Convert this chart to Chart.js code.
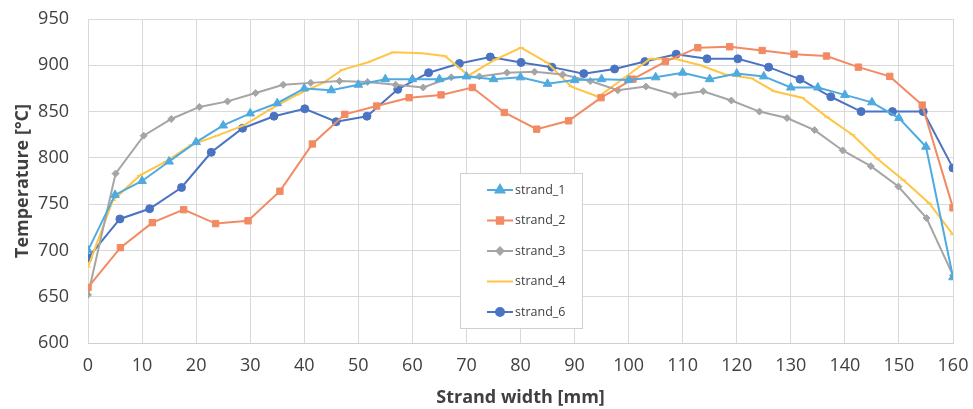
<!DOCTYPE html>
<html>
<head>
<meta charset="utf-8">
<script src="https://cdn.jsdelivr.net/npm/chart.js@4.4.0/dist/chart.umd.min.js"></script>
<style>
  html, body { margin: 0; padding: 0; background: #fff; }
  #wrap { width: 973px; height: 409px; }
</style>
</head>
<body>
<div id="wrap"><canvas id="tempChart"></canvas></div>
<script>
// x = strand width [mm], y = temperature [°C]
const strand1X = [0, 5, 10, 15, 20, 25, 30, 35, 40, 45, 50, 55, 60, 65, 70, 75, 80, 85, 90, 95, 100, 105, 110, 115, 120, 125, 130, 135, 140, 145, 150, 155, 160];
const strand1Y = [700, 760, 775, 796, 817, 835, 848, 859, 875, 873, 879, 885, 885, 885, 888, 885, 887, 880, 884, 885, 884, 887, 892, 885, 891, 888, 876, 876, 868, 860, 843, 812, 671];

const strand2X = [0, 6, 11.9, 17.7, 23.6, 29.6, 35.5, 41.5, 47.5, 53.4, 59.4, 65.3, 71.1, 77, 83, 88.9, 94.9, 100.8, 106.8, 112.8, 118.7, 124.7, 130.6, 136.6, 142.5, 148.3, 154.3, 160];
const strand2Y = [660, 703, 730, 744, 729, 732, 764, 815, 847, 856, 865, 868, 876, 849, 831, 840, 865, 885, 904, 919, 920, 916, 912, 910, 898, 888, 857, 746];

const strand3X = [0, 5.1, 10.3, 15.4, 20.6, 25.8, 31, 36.1, 41.2, 46.5, 51.7, 56.9, 62, 67.2, 72.4, 77.5, 82.6, 87.8, 92.9, 98, 103.2, 108.6, 113.8, 119, 124.2, 129.3, 134.4, 139.6, 144.8, 149.9, 155.1, 160];
const strand3Y = [652, 783, 824, 842, 855, 861, 870, 879, 881, 883, 882, 879, 876, 887, 888, 892, 893, 890, 883, 873, 877, 868, 872, 862, 850, 843, 830, 808, 791, 769, 735, 673];

const strand4X = [0, 4.6, 9.6, 14.4, 19.1, 23.9, 28.8, 33.6, 38.6, 43.5, 47, 51.7, 56.4, 61.7, 66, 70.4, 75.3, 80.1, 84.9, 89.4, 94.4, 99.1, 104, 108.6, 113.3, 117.9, 122.7, 126.9, 132.1, 136.7, 141.4, 146, 150.8, 155.6, 160];
const strand4Y = [682, 754, 781, 796, 814, 824, 835, 852, 868, 881, 895, 903, 914, 913, 910, 889, 906, 919, 903, 877, 866, 886, 907, 907, 900, 890, 886, 872, 865, 844, 825, 799, 776, 751, 717];

const strand6X = [0, 5.9, 11.4, 17.3, 22.8, 28.6, 34.4, 40.1, 45.9, 51.6, 57.3, 63, 68.7, 74.4, 80.1, 85.8, 91.7, 97.4, 103, 108.8, 114.5, 120.2, 125.9, 131.7, 137.4, 143, 148.8, 154.5, 160];
const strand6Y = [692, 734, 745, 768, 806, 832, 845, 853, 839, 845, 874, 892, 902, 909, 903, 898, 891, 896, 904, 912, 907, 907, 898, 885, 866, 850, 850, 850, 789];

const xTicks = [0, 10, 20, 30, 40, 50, 60, 70, 80, 90, 100, 110, 120, 130, 140, 150, 160];
const yTicks = [600, 650, 700, 750, 800, 850, 900, 950];

function toPoints(xs, ys) {
  return xs.map((x, i) => ({ x: x, y: ys[i] }));
}

const FONT = '"Open Sans", sans-serif';

// legend box drawn inside the plot, like the spreadsheet original
const boxLegend = {
  id: 'boxLegend',
  afterDraw(chart) {
    const ctx = chart.ctx;
    const xs = chart.scales.x;
    const ys = chart.scales.y;
    const left = Math.round(xs.getPixelForValue(68.8));
    const right = Math.round(xs.getPixelForValue(91.3));
    const top = Math.round(ys.getPixelForValue(784));
    const bottom = Math.round(ys.getPixelForValue(616));
    ctx.save();
    ctx.fillStyle = '#fff';
    ctx.fillRect(left, top, right - left, bottom - top);
    ctx.strokeStyle = '#d0d0d0';
    ctx.lineWidth = 1;
    ctx.strokeRect(left + 0.5, top + 0.5, right - left, bottom - top);
    chart.data.datasets.forEach((ds, i) => {
      const y = top + 17 + i * 30.5;
      const x0 = left + 27;
      const x1 = left + 53;
      ctx.strokeStyle = ds.borderColor;
      ctx.lineWidth = 2;
      ctx.beginPath();
      ctx.moveTo(x0, y);
      ctx.lineTo(x1, y);
      ctx.stroke();
      if (ds.legendMarker) {
        ctx.fillStyle = ds.borderColor;
        ctx.strokeStyle = ds.borderColor;
        Chart.helpers.drawPoint(ctx, { pointStyle: ds.pointStyle, radius: ds.pointRadius, borderWidth: 1 }, (x0 + x1) / 2, y);
      }
      ctx.fillStyle = '#404040';
      ctx.font = '12.5px ' + FONT;
      ctx.textBaseline = 'middle';
      ctx.textAlign = 'left';
      ctx.fillText(ds.label, x1 + 2, y);
    });
    ctx.restore();
  }
};

const tempChart = new Chart(document.getElementById('tempChart').getContext('2d'), {
  type: 'line',
  data: {
    datasets: [
      {
        label: 'strand_1',
        data: toPoints(strand1X, strand1Y),
        borderColor: '#4FAADF',
        backgroundColor: '#4FAADF',
        pointStyle: 'triangle',
        pointRadius: 5,
        legendMarker: true
      },
      {
        label: 'strand_2',
        data: toPoints(strand2X, strand2Y),
        borderColor: '#F28A63',
        backgroundColor: '#F28A63',
        pointStyle: 'rect',
        pointRadius: 4.5,
        legendMarker: true
      },
      {
        label: 'strand_3',
        data: toPoints(strand3X, strand3Y),
        borderColor: '#A5A5A5',
        backgroundColor: '#A5A5A5',
        pointStyle: 'rectRot',
        pointRadius: 3.5,
        legendMarker: true
      },
      {
        label: 'strand_4',
        data: toPoints(strand4X, strand4Y),
        borderColor: '#FFC546',
        backgroundColor: '#FFC546',
        pointStyle: 'line',
        pointRadius: 3,
        legendMarker: false
      },
      {
        label: 'strand_6',
        data: toPoints(strand6X, strand6Y),
        borderColor: '#4A74C2',
        backgroundColor: '#4A74C2',
        pointStyle: 'circle',
        pointRadius: 4,
        legendMarker: true
      }
    ]
  },
  options: {
    responsive: true,
    maintainAspectRatio: false,
    animation: false,
    elements: {
      line: { borderWidth: 2, tension: 0 },
      point: { borderWidth: 1, hoverRadius: 4 }
    },
    layout: { padding: { top: 19, right: 20, left: 0, bottom: 0 } },
    plugins: {
      legend: { display: false },
      tooltip: { enabled: false }
    },
    scales: {
      x: {
        type: 'linear',
        min: 0,
        max: 160,
        afterBuildTicks: (scale) => { scale.ticks = xTicks.map(v => ({ value: v })); },
        afterFit: (scale) => {
          scale.height = 66;
          scale.paddingLeft = 0;
          scale.paddingRight = 0;
        },
        grid: { color: '#d9d9d9', drawTicks: false },
        border: { color: '#d0d0d0' },
        ticks: { color: '#404040', font: { family: FONT, size: 18 }, padding: 12, maxRotation: 0 },
        title: {
          display: true,
          text: 'Strand width [mm]',
          color: '#404040',
          font: { family: FONT, size: 18, weight: 'bold' },
          padding: { top: 3, bottom: 0 }
        }
      },
      y: {
        min: 600,
        max: 950,
        afterBuildTicks: (scale) => { scale.ticks = yTicks.map(v => ({ value: v })); },
        afterFit: (scale) => {
          scale.width = 88;
          scale.paddingTop = 0;
          scale.paddingBottom = 0;
        },
        grid: { color: '#d9d9d9', drawTicks: false },
        border: { display: false },
        ticks: { color: '#404040', font: { family: FONT, size: 18 }, padding: 19 },
        title: {
          display: true,
          text: 'Temperature [°C]',
          color: '#404040',
          font: { family: FONT, size: 18, weight: 'bold' },
          padding: { top: 12, bottom: 0 }
        }
      }
    }
  },
  plugins: [boxLegend]
});
</script>
</body>
</html>
